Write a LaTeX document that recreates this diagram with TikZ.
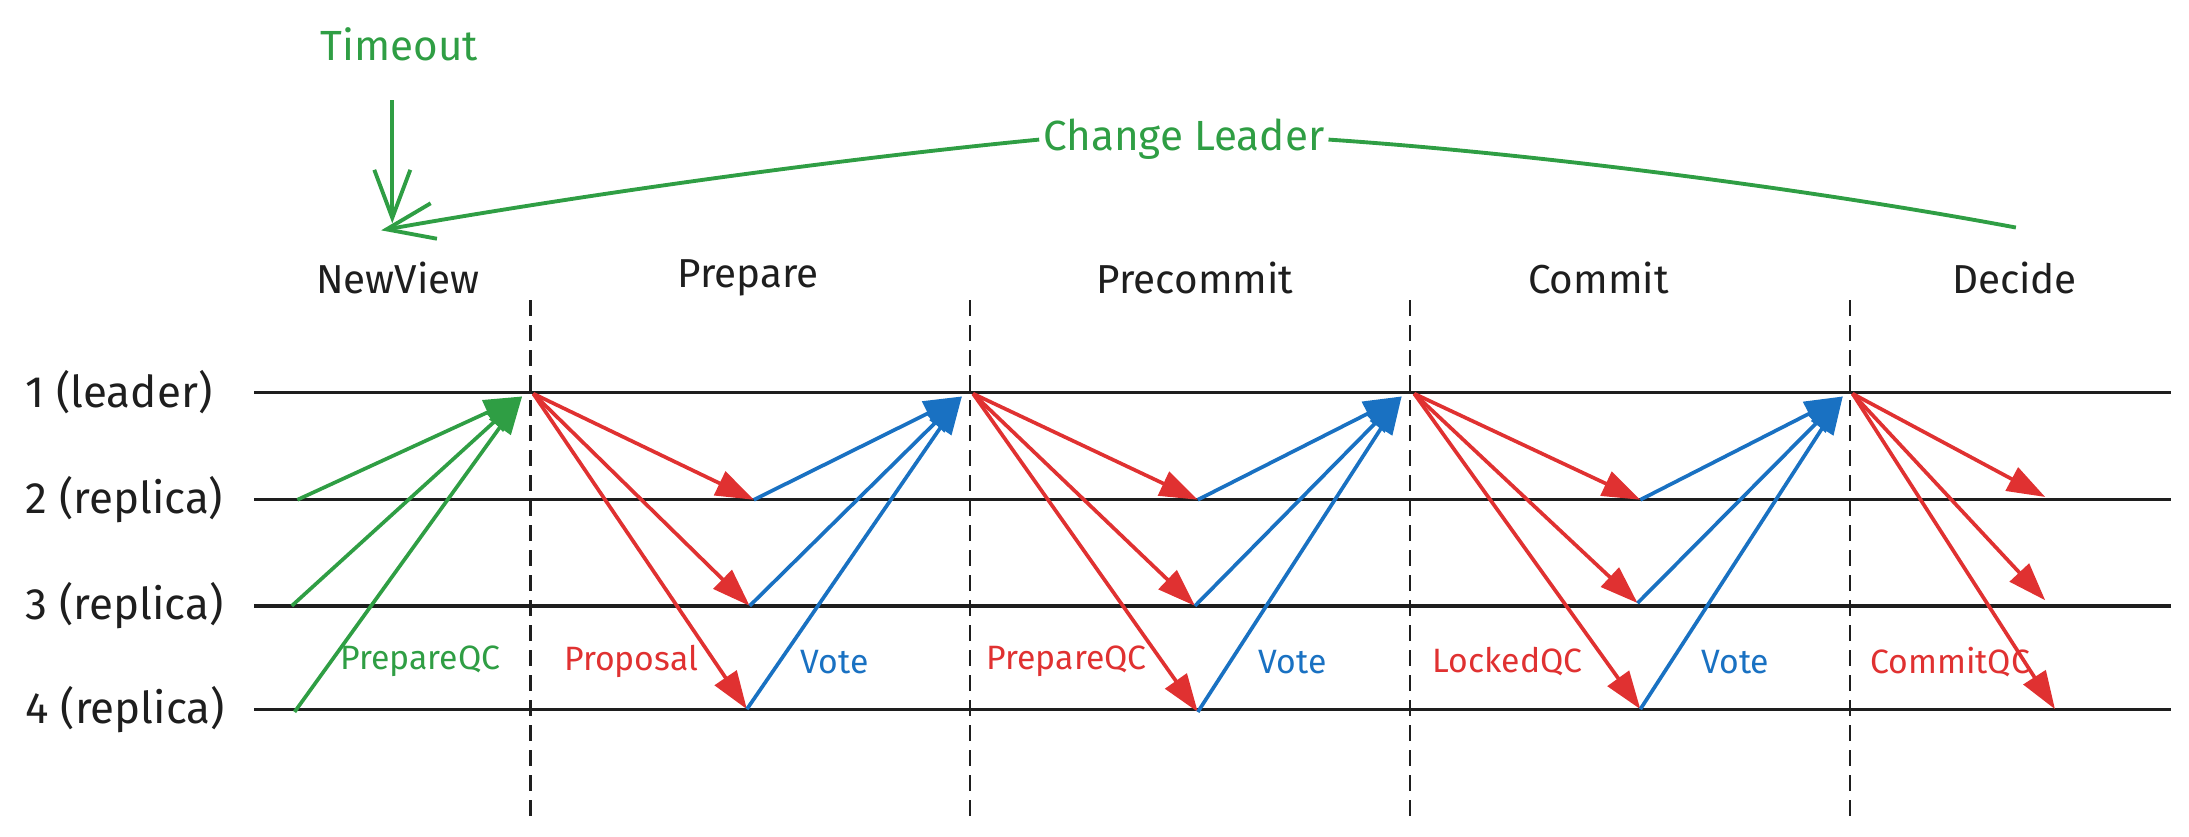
\documentclass[tikz,border=0pt]{standalone}
\usepackage{fontspec}
\setmainfont{Fira Sans}
\usepackage{tikz}
\usetikzlibrary{arrows.meta}
\definecolor{exgreen}{RGB}{47,158,68}
\definecolor{exred}{RGB}{224,49,49}
\definecolor{exblue}{RGB}{25,113,194}
\definecolor{exblack}{RGB}{30,30,30}
\tikzset{
  rowlbl/.style={
    anchor=west,
    inner sep=0pt,
    text=exblack,
    font=\fontsize{12.5}{14}\selectfont
  },
  phaselbl/.style={
    inner sep=0pt,
    text=exblack,
    font=\fontsize{11.5}{13}\selectfont
  },
  msglbl/.style={
    inner sep=0pt,
    font=\fontsize{9.6}{11}\selectfont
  },
  toplbl/.style={
    inner sep=1pt,
    text=exgreen,
    font=\fontsize{12}{14}\selectfont
  },
  lane/.style={draw=exblack, line width=0.95pt},
  phasesep/.style={draw=exblack, line width=0.7pt, dash pattern=on 1.6mm off 0.9mm},
  msgred/.style={-{Triangle[length=3.8mm,width=2.6mm]}, line width=1.05pt, exred},
  msgblue/.style={-{Triangle[length=3.8mm,width=2.6mm]}, line width=1.05pt, exblue},
  msggreen/.style={-{Triangle[length=3.8mm,width=2.6mm]}, line width=1.05pt, exgreen},
  gbarb/.style={-{Straight Barb[length=4.8mm,width=3.6mm]}, line width=1.1pt, exgreen}
}
\begin{document}
\begin{tikzpicture}[x=0.1396mm, y=-0.1396mm]
\useasboundingbox (0,0) rectangle (1568,599);
% view change
\node[toplbl] (timeout) at (286,32) {Timeout};
\node[toplbl] (chg) at (848,100) {Change Leader};
\coordinate (tmtail) at (281,72);
\coordinate (tmtip) at (281,160);
\coordinate (cltail) at (1444,163);
\coordinate (cltip) at (273,165);
\draw[gbarb] (tmtail) -- (tmtip);
\draw[exgreen, line width=1.1pt] (cltail) .. controls (1300,136) and (1100,110) .. (chg.east);
\draw[gbarb] (chg.west) .. controls (600,114) and (420,139) .. (cltip);
% phases
\node[phaselbl] (newview) at (285,199) {NewView};
\node[phaselbl] (prepare) at (536,199) {Prepare};
\node[phaselbl] (precommit) at (856,199) {Precommit};
\node[phaselbl] (commit) at (1145,199) {Commit};
\node[phaselbl] (decide) at (1443,199) {Decide};
\draw[phasesep] (380,215) -- (380,585);
\draw[phasesep] (695,215) -- (695,585);
\draw[phasesep] (1010,215) -- (1010,585);
\draw[phasesep] (1325,215) -- (1325,585);
% replicas
\node[rowlbl] (r1) at (18,281) {1 (leader)};
\node[rowlbl] (r2) at (18,358) {2 (replica)};
\node[rowlbl] (r3) at (18,434) {3 (replica)};
\node[rowlbl] (r4) at (18,508) {4 (replica)};
\draw[lane] (182,281) -- (1555,281);
\draw[lane] (182,358) -- (1555,358);
\draw[lane] (182,434) -- (1555,434);
\draw[lane] (182,508) -- (1555,508);
% points on the leader lane
\coordinate (in1) at (374,284);
\coordinate (out1) at (382,282);
\coordinate (in2) at (689,284);
\coordinate (out2) at (697,282);
\coordinate (in3) at (1004,284);
\coordinate (out3) at (1013,282);
\coordinate (in4) at (1320,284);
\coordinate (out4) at (1327,282);
% points on the replica lanes
\coordinate (a2) at (213,358);
\coordinate (a3) at (209,434);
\coordinate (a4) at (211,510);
\coordinate (b2) at (540,358);
\coordinate (b3) at (537,434);
\coordinate (b4) at (535,508);
\coordinate (c2) at (858,358);
\coordinate (c3) at (856,434);
\coordinate (c4) at (858,510);
\coordinate (d2) at (1175,358);
\coordinate (d3) at (1173,432);
\coordinate (d4) at (1175,508);
\coordinate (e2) at (1465,356);
\coordinate (e3) at (1465,430);
\coordinate (e4) at (1472,508);
% messages
\draw[msggreen] (a2) -- (in1);
\draw[msggreen] (a3) -- (in1);
\draw[msggreen] (a4) -- (in1);
\draw[msgred] (out1) -- (b2);
\draw[msgred] (out1) -- (b3);
\draw[msgred] (out1) -- (b4);
\draw[msgblue] (b2) -- (in2);
\draw[msgblue] (b3) -- (in2);
\draw[msgblue] (b4) -- (in2);
\draw[msgred] (out2) -- (c2);
\draw[msgred] (out2) -- (c3);
\draw[msgred] (out2) -- (c4);
\draw[msgblue] (c2) -- (in3);
\draw[msgblue] (c3) -- (in3);
\draw[msgblue] (c4) -- (in3);
\draw[msgred] (out3) -- (d2);
\draw[msgred] (out3) -- (d3);
\draw[msgred] (out3) -- (d4);
\draw[msgblue] (d2) -- (in4);
\draw[msgblue] (d3) -- (in4);
\draw[msgblue] (d4) -- (in4);
\draw[msgred] (out4) -- (e2);
\draw[msgred] (out4) -- (e3);
\draw[msgred] (out4) -- (e4);
% message labels
\node[msglbl, text=exgreen] (qc0) at (301,474) {PrepareQC};
\node[msglbl, text=exred] (prop) at (452,474) {Proposal};
\node[msglbl, text=exblue] (vote1) at (598,474) {Vote};
\node[msglbl, text=exred] (qc1) at (764,474) {PrepareQC};
\node[msglbl, text=exblue] (vote2) at (926,474) {Vote};
\node[msglbl, text=exred] (qc2) at (1080,474) {LockedQC};
\node[msglbl, text=exblue] (vote3) at (1243,474) {Vote};
\node[msglbl, text=exred] (qc3) at (1397,474) {CommitQC};
\end{tikzpicture}
\end{document}
